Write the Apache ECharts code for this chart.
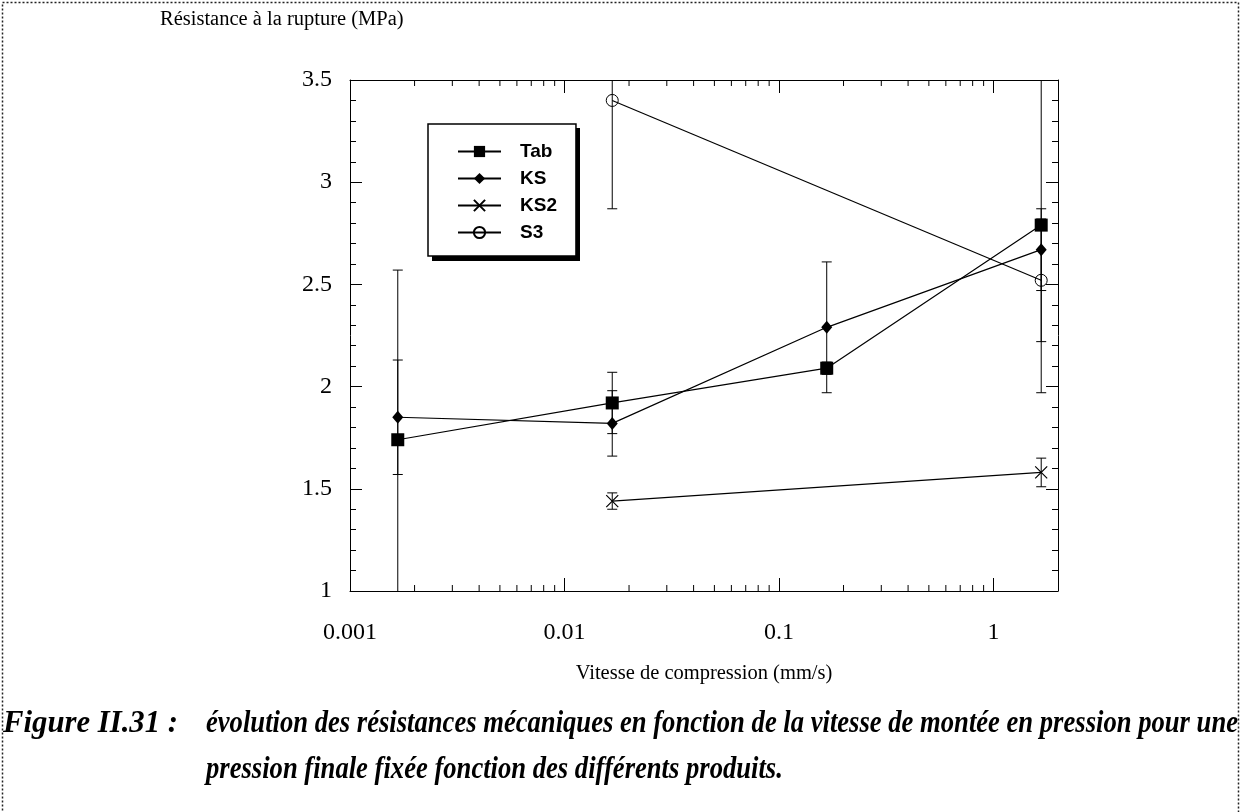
<!DOCTYPE html>
<html><head><meta charset="utf-8">
<script src="https://cdn.jsdelivr.net/npm/echarts@6/dist/echarts.min.js"></script>
<style>html,body{margin:0;padding:0;background:#fff}#c{width:1241px;height:812px}</style>
</head><body><div id="c"></div>
<script>
// ---- data ----
const speeds = [0.00167, 0.0167, 0.167, 1.67];
const tab    = [1.74, 1.92, 2.09, 2.79];
const tabErr = [0.83, 0.15, 0.03, 0.82];
const ks     = [1.85, 1.82, 2.29, 2.67];
const ksErr  = [0.28, 0.16, 0.32, 0.20];
const ks2    = [null, 1.44, null, 1.58];
const ks2Err = [null, 0.04, null, 0.07];
const s3     = [null, 3.40, null, 2.52];
const s3Err  = [null, 0.53, null, 0.30];
const seriesNames = ['Tab', 'KS', 'KS2', 'S3'];
const xMinorTicks = [0.002,0.003,0.004,0.005,0.006,0.007,0.008,0.009,
                     0.02,0.03,0.04,0.05,0.06,0.07,0.08,0.09,
                     0.2,0.3,0.4,0.5,0.6,0.7,0.8,0.9];
const X_MIN = 0.001, X_MAX = 2;
const Y_MIN = 1, Y_MAX = 3.5, Y_STEP = 0.5;
const yTitle = 'Résistance à la rupture (MPa)';
const xTitle = 'Vitesse de compression (mm/s)';
const capHead = 'Figure II.31 :';
const capLine1 = 'évolution des résistances mécaniques en fonction de la vitesse de montée en pression pour une';
const capLine2 = 'pression finale fixée fonction des différents produits.';

// ---- helpers ----
function pairs(vals){ const out=[]; vals.forEach((v,i)=>{ if(v!=null) out.push([speeds[i], v]); }); return out; }
function bars(vals, errs){ const out=[]; vals.forEach((v,i)=>{ if(v!=null) out.push([speeds[i], v-errs[i], v+errs[i]]); }); return out; }
const errData = [].concat(bars(tab,tabErr), bars(ks,ksErr), bars(ks2,ks2Err), bars(s3,s3Err));

const SERIF = '"Liberation Serif","Times New Roman",serif';
const SANS = '"Liberation Sans",Arial,sans-serif';
const capFont = 'italic bold 32px ' + SERIF;
const cv = document.createElement('canvas').getContext('2d');
cv.font = 'italic bold 32px "Liberation Serif"';
const capScale = (1238 - 206) / cv.measureText(capLine1).width;
const headScale = (178 - 3) / cv.measureText(capHead).width;

function xLabelFmt(v){
  const l = Math.log10(v);
  if (Math.abs(l - Math.round(l)) > 1e-6) return '';
  return String(Number(v.toPrecision(6)));
}

const black = '#000';
const lineCommon = { color: black, width: 1.2 };

// legend box geometry
const LEG_L = 428, LEG_T = 124, LEG_W = 148, LEG_H = 133;

const chart = echarts.init(document.getElementById('c'), null, {renderer:'canvas'});
chart.setOption({
  animation: false,
  backgroundColor: '#fff',
  grid: { left: 350, top: 80, width: 708, height: 511, containLabel: false },
  xAxis: [{
    type: 'log', logBase: 10, min: X_MIN, max: X_MAX, position: 'bottom',
    axisLine: { lineStyle: { color: black, width: 1 } },
    axisTick: { inside: true, length: 13, lineStyle: { color: black, width: 1 } },
    axisLabel: { margin: 30, fontFamily: SERIF, fontSize: 24, color: black, formatter: xLabelFmt, showMaxLabel: false },
    splitLine: { show: false },
    name: xTitle, nameLocation: 'middle', nameGap: 72,
    nameTextStyle: { fontFamily: SERIF, fontSize: 20.5, color: black }
  },{
    type: 'log', logBase: 10, min: X_MIN, max: X_MAX, position: 'top',
    axisLine: { lineStyle: { color: black, width: 1 } },
    axisTick: { inside: true, length: 13, lineStyle: { color: black, width: 1 } },
    axisLabel: { show: false }, splitLine: { show: false }
  }],
  yAxis: [{
    type: 'value', min: Y_MIN, max: Y_MAX, interval: Y_STEP, position: 'left',
    axisLine: { show: true, lineStyle: { color: black, width: 1 } },
    axisTick: { show: true, inside: true, length: 12, lineStyle: { color: black, width: 1 } },
    minorTick: { show: true, splitNumber: 5, length: 6, lineStyle: { color: black, width: 1 } },
    axisLabel: { margin: 18, fontFamily: SERIF, fontSize: 24, color: black },
    splitLine: { show: false }
  },{
    type: 'value', min: Y_MIN, max: Y_MAX, interval: Y_STEP, position: 'right',
    axisLine: { show: true, lineStyle: { color: black, width: 1 } },
    axisTick: { show: true, inside: true, length: 12, lineStyle: { color: black, width: 1 } },
    minorTick: { show: true, splitNumber: 5, length: 6, lineStyle: { color: black, width: 1 } },
    axisLabel: { show: false }, splitLine: { show: false }
  }],
  legend: {
    data: seriesNames, orient: 'vertical', left: LEG_L, top: LEG_T,
    padding: [18, 19, 14, 29], itemWidth: 43, itemHeight: 14, itemGap: 8,
    backgroundColor: '#fff', borderColor: black, borderWidth: 1.5, borderRadius: 0,
    textStyle: { fontFamily: SANS, fontSize: 19, fontWeight: 'bold', color: black, padding: [0,0,0,14] },
    selectedMode: false
  },
  series: [
    {
      type: 'custom', name: 'errors', xAxisIndex: 0, yAxisIndex: 0, clip: true, silent: true, z: 1,
      data: errData,
      renderItem: function(params, api){
        const x = api.value(0);
        const lo = api.coord([x, api.value(1)]);
        const hi = api.coord([x, api.value(2)]);
        const w = 5, st = { stroke: black, lineWidth: 1 };
        return { type: 'group', children: [
          { type: 'line', shape: { x1: lo[0], y1: lo[1], x2: hi[0], y2: hi[1] }, style: st },
          { type: 'line', shape: { x1: lo[0]-w, y1: lo[1], x2: lo[0]+w, y2: lo[1] }, style: st },
          { type: 'line', shape: { x1: hi[0]-w, y1: hi[1], x2: hi[0]+w, y2: hi[1] }, style: st }
        ]};
      }
    },
    {
      type: 'custom', name: 'minorTicks', xAxisIndex: 0, yAxisIndex: 0, clip: false, silent: true, z: 3,
      data: xMinorTicks.map(v => [v, Y_MIN]),
      renderItem: function(params, api){
        const v = api.value(0);
        const b = api.coord([v, Y_MIN]), t = api.coord([v, Y_MAX]);
        const st = { stroke: black, lineWidth: 1 };
        return { type: 'group', children: [
          { type: 'line', shape: { x1: b[0], y1: b[1], x2: b[0], y2: b[1]-6 }, style: st },
          { type: 'line', shape: { x1: t[0], y1: t[1], x2: t[0], y2: t[1]+6 }, style: st }
        ]};
      }
    },
    { type: 'line', name: 'Tab', data: pairs(tab), symbol: 'rect', symbolSize: 13, z: 4,
      itemStyle: { color: black }, lineStyle: lineCommon },
    { type: 'line', name: 'KS', data: pairs(ks), symbol: 'diamond', symbolSize: [11, 13], z: 4,
      itemStyle: { color: black }, lineStyle: lineCommon },
    { type: 'line', name: 'KS2', data: pairs(ks2), symbol: 'path://M0,0L10,10M10,0L0,10', symbolSize: 12, z: 4,
      itemStyle: { color: 'transparent', borderColor: black, borderWidth: 1.2 }, lineStyle: lineCommon },
    { type: 'line', name: 'S3', data: pairs(s3), symbol: 'circle', symbolSize: 12, z: 4,
      itemStyle: { color: 'transparent', borderColor: black, borderWidth: 1 }, lineStyle: lineCommon }
  ],
  graphic: [
    { type: 'rect', silent: true, shape: { x: 2.5, y: 2.5, width: 1236, height: 900 },
      style: { fill: 'none', stroke: '#222', lineWidth: 1.5, lineDash: [2, 2] } },
    { type: 'rect', silent: true, z: 2, shape: { x: LEG_L + 4, y: LEG_T + 4, width: LEG_W, height: LEG_H },
      style: { fill: black } },
    { type: 'text', x: 160, y: 20, style: { text: yTitle, font: '20.5px ' + SERIF, fill: black, verticalAlign: 'middle' } },
    { type: 'text', x: 3, y: 724, scaleX: headScale, style: { text: capHead, font: capFont, fill: black, verticalAlign: 'middle' } },
    { type: 'text', x: 206, y: 724, scaleX: capScale, style: { text: capLine1, font: capFont, fill: black, verticalAlign: 'middle' } },
    { type: 'text', x: 206, y: 770, scaleX: capScale, style: { text: capLine2, font: capFont, fill: black, verticalAlign: 'middle' } }
  ]
});
</script>
</body></html>
